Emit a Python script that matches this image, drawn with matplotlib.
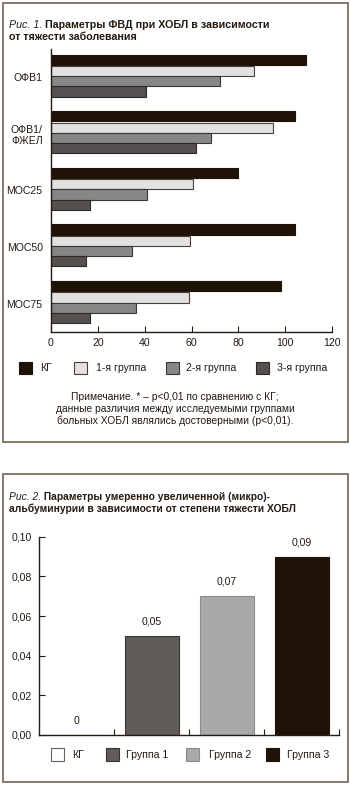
import matplotlib
matplotlib.use("Agg")
import matplotlib.pyplot as plt
import matplotlib.patches as mpatches
import numpy as np

plt.rcParams['font.family'] = ['Liberation Sans', 'DejaVu Sans']

# ---------------- data ----------------
params = ["ОФВ1", "ОФВ1/\nФЖЕЛ", "МОС25", "МОС50", "МОС75"]
series1 = ["КГ", "1-я группа", "2-я группа", "3-я группа"]
kg_vals = [108.8, 104.0, 80.0, 104.3, 98.3]
g1_vals = [86.5, 95.0, 60.8, 59.4, 59.0]
g2_vals = [72.0, 68.5, 41.0, 34.5, 36.2]
g3_vals = [40.5, 61.8, 16.5, 15.0, 16.7]
xticks1 = [0, 20, 40, 60, 80, 100, 120]

groups2 = ["КГ", "Группа 1", "Группа 2", "Группа 3"]
vals2 = [0.0, 0.05, 0.07, 0.09]
val_labels2 = ["0", "0,05", "0,07", "0,09"]
yticks2 = [0.00, 0.02, 0.04, 0.06, 0.08, 0.10]
ytick_labels2 = ["0,00", "0,02", "0,04", "0,06", "0,08", "0,10"]

title1_it = "Рис. 1."
title1_b1 = " Параметры ФВД при ХОБЛ в зависимости"
title1_b2 = "от тяжести заболевания"
note1 = ("Примечание. * – p<0,01 по сравнению с КГ;\n"
         "данные различия между исследуемыми группами\n"
         "больных ХОБЛ являлись достоверными (p<0,01).")
title2_it = "Рис. 2."
title2_b1 = " Параметры умеренно увеличенной (микро)-"
title2_b2 = "альбуминурии в зависимости от степени тяжести ХОБЛ"

# ---------------- styles ----------------
W, H = 350, 785
FS = 7.6
DARK = "#1f1207"
col1 = [DARK, "#e1e1e1", "#878787", "#545150"]
edge1 = ["#1f1207", "#4a4036", "#3d3630", "#2d2824"]
col2 = ["#ffffff", "#5f5c59", "#a9a9a9", DARK]
edge2 = ["#4a4036", "#3a342e", "#8a8a8a", DARK]
BORDER = "#7a7063"
TXT = "#231a12"

fig = plt.figure(figsize=(W / 100, H / 100), dpi=100)
fig.patch.set_facecolor("white")


def fx(px):
    return px / W


def fy(py):
    return 1 - py / H


# panel borders
for (x0, y0, x1, y1) in [(2.5, 2.5, 347.5, 442), (2.5, 474, 347.5, 781.5)]:
    fig.add_artist(mpatches.Rectangle((fx(x0), fy(y1)), fx(x1 - x0), (y1 - y0) / H,
                                      transform=fig.transFigure, fill=False,
                                      edgecolor=BORDER, linewidth=1.3))


def two_part_title(x, y, it, b1, b2, size):
    t = fig.text(fx(x), fy(y), it, fontsize=size, style="italic", color=TXT,
                 va="baseline", ha="left")
    fig.canvas.draw()
    bb = t.get_window_extent()
    fig.text(bb.x1 / W, fy(y), b1, fontsize=size, weight="bold", color=TXT,
             va="baseline", ha="left")
    fig.text(fx(x), fy(y + 12), b2, fontsize=size, weight="bold", color=TXT,
             va="baseline", ha="left")


# ---------------- chart 1 ----------------
two_part_title(9, 28.5, title1_it, title1_b1, title1_b2, 7.7)

ax1 = fig.add_axes([fx(51), fy(332), fx(281), 283 / H])
y = np.arange(len(params))
h = 0.18
offs = [-0.31, -0.11, 0.07, 0.25]
vals = [kg_vals, g1_vals, g2_vals, g3_vals]
for i in range(4):
    ax1.barh(y + offs[i], vals[i], height=h, color=col1[i], edgecolor=edge1[i],
             linewidth=0.8, align="center")
ax1.set_ylim(len(params) - 0.5, -0.5)
ax1.set_xlim(0, 120)
ax1.set_yticks(y)
ax1.set_yticklabels(params, fontsize=FS, color=TXT, linespacing=1.2)
ax1.set_xticks(xticks1)
ax1.set_xticklabels([str(v) for v in xticks1], fontsize=FS, color=TXT)
ax1.tick_params(axis="y", length=0, pad=6)
ax1.tick_params(axis="x", direction="in", length=4, width=0.8, color=TXT, pad=4.5)
for s in ["top", "right"]:
    ax1.spines[s].set_visible(False)
for s in ["left", "bottom"]:
    ax1.spines[s].set_color(TXT)
    ax1.spines[s].set_linewidth(1.0)

# legend 1
leg1_sq = [19, 74, 166, 256]
leg1_tx = [40, 96, 186, 277]
for i in range(4):
    fig.add_artist(mpatches.Rectangle((fx(leg1_sq[i]), fy(374)), fx(13), 12 / H,
                                      transform=fig.transFigure, facecolor=col1[i],
                                      edgecolor=edge1[i], linewidth=0.8))
    fig.text(fx(leg1_tx[i]), fy(368), series1[i], fontsize=FS, color=TXT,
             va="center", ha="left")

fig.text(fx(175), fy(409), note1, fontsize=7.4, color=TXT, ha="center",
         va="center", linespacing=1.2)

# ---------------- chart 2 ----------------
two_part_title(9, 500, title2_it, title2_b1, title2_b2, 7.4)

ax2 = fig.add_axes([fx(39), fy(735), fx(300), 198.3 / H])
x = np.arange(len(groups2))
ax2.bar(x, vals2, width=0.72, color=col2, edgecolor=edge2, linewidth=0.8)
for xi, v, lab in zip(x, vals2, val_labels2):
    ax2.text(xi, v + 0.0072, lab, ha="center", va="center", fontsize=FS, color=TXT)
ax2.set_xlim(-0.5, len(groups2) - 0.5)
ax2.set_ylim(0, 0.10)
ax2.set_yticks(yticks2)
ax2.set_yticklabels(ytick_labels2, fontsize=FS, color=TXT)
ax2.set_xticks(x + 0.5)
ax2.set_xticklabels([])
ax2.tick_params(axis="y", direction="in", length=4, width=0.8, color=TXT, pad=5)
ax2.tick_params(axis="x", direction="in", length=4, width=0.8, color=TXT)
for s in ["top", "right"]:
    ax2.spines[s].set_visible(False)
for s in ["left", "bottom"]:
    ax2.spines[s].set_color(TXT)
    ax2.spines[s].set_linewidth(1.0)

leg2_sq = [51, 106, 186, 266]
leg2_tx = [72, 126, 209, 287]
for i in range(4):
    fig.add_artist(mpatches.Rectangle((fx(leg2_sq[i]), fy(761)), fx(13), 13 / H,
                                      transform=fig.transFigure, facecolor=col2[i],
                                      edgecolor=edge2[i] if i != 0 else "#6a625a",
                                      linewidth=0.8))
    fig.text(fx(leg2_tx[i]), fy(754.5), groups2[i], fontsize=FS, color=TXT,
             va="center", ha="left")

fig.savefig("out.png", dpi=100, facecolor="white")
